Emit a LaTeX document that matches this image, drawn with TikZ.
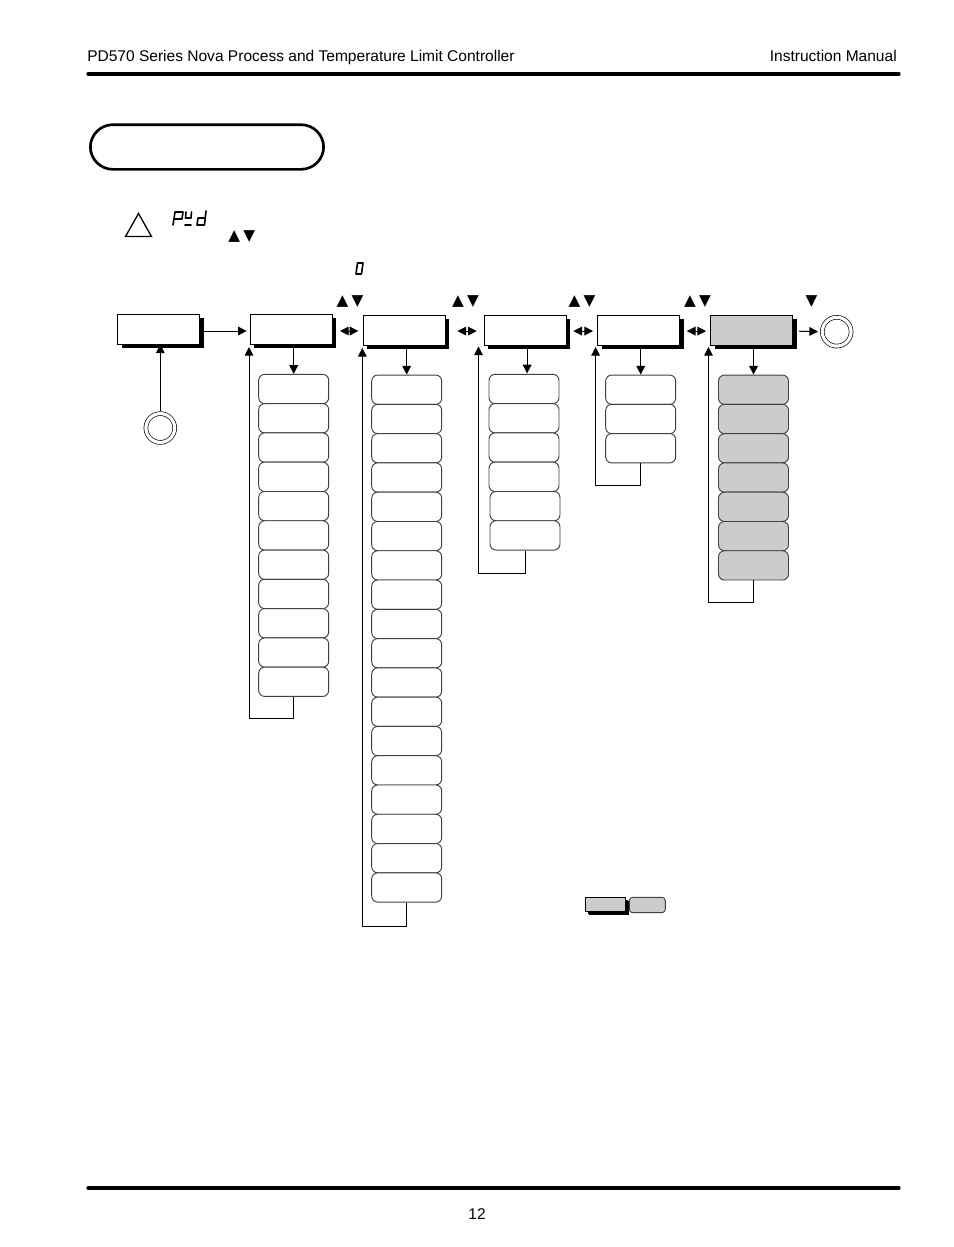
\documentclass[tikz,border=0pt]{standalone}
\usepackage{fontspec}
\setmainfont{Liberation Sans}
\newfontfamily\symfont{DejaVu Sans}
\usetikzlibrary{arrows.meta,shadows}
\definecolor{menugray}{HTML}{CCCCCC}
\newcommand{\updown}{{\symfont\fontsize{11.5}{12}\selectfont ▲\hspace{2.4pt}▼}}
\newcommand{\downonly}{{\symfont\fontsize{11.5}{12}\selectfont ▼}}

\begin{document}
\begin{tikzpicture}[x=0.75pt,y=-0.75pt,>={Triangle[length=6.5pt,width=6.5pt]},
    node distance=21.96pt,
    menu/.style={rectangle,draw,fill=white,line width=0.6pt,minimum width=61.5pt,minimum height=22.5pt,inner sep=0pt,
        drop shadow={shadow xshift=3pt,shadow yshift=-3pt,fill=black,opacity=1}},
    item/.style={rectangle,draw=black!75,fill=white,line width=0.7pt,rounded corners=4.5pt,minimum width=52.5pt,minimum height=21.96pt,inner sep=0pt},
    keys/.style={inner sep=0pt},
    ring/.style={circle,draw,fill=white,line width=0.5pt,minimum size=21.6pt,inner sep=0pt,outer sep=1.7pt,double,double distance=2.4pt},
    rule/.style={line width=2.4pt,line cap=round},
    segment/.style={line width=1.2pt,line cap=round,line join=round},
    pagetext/.style={inner sep=0pt,font=\fontsize{11.65}{13}\selectfont}]
    \useasboundingbox (0,0) rectangle (954,1247);

    % header and footer
    \node[pagetext,anchor=base west] (title) at (87,61) {PD570 Series Nova Process and Temperature Limit Controller};
    \node[pagetext,anchor=base east] (manual) at (897,61) {Instruction Manual};
    \node[pagetext,anchor=base] (page) at (477,1219.5) {12};
    \draw[rule] (88,74) -- (899,74);
    \draw[rule] (88,1188) -- (899,1188);

    % heading
    \node[draw,line width=2pt,rounded corners=17pt,minimum width=175pt,minimum height=33.5pt,inner sep=0pt] (heading) at (207,147) {};

    % note
    \draw[line width=1pt] (125.5,236.5) -- (138.5,213.5) -- (151.5,236.5) -- cycle;
    \draw[segment] (173,225) -- (175,212) -- (183,212) -- (182,219) -- (174,219);
    \draw[segment] (186,212) -- (185.5,218) -- (191,218) -- (191.5,212);
    \draw[segment] (185,225) -- (191,225);
    \draw[segment] (206,211) -- (204.5,225) -- (197,225) -- (198,218) -- (205,218);
    \draw[segment] (357.5,263) -- (363,263) -- (361.5,274) -- (356,274) -- cycle;
    \node[keys] (notekeys) at (241.7,237) {\updown};

    % menus
    \node[menu] (start) at (158.5,329) {};
    \node[menu] (m1) at (291,329) {};
    \node[menu] (m2) at (404,330) {};
    \node[menu] (m3) at (525,330) {};
    \node[menu] (m4) at (638.5,330) {};
    \node[menu,fill=menugray] (m5) at (751.5,330) {};
    \node[ring] (enter) at (160.3,428) {};
    \node[ring] (exit) at (836.7,331.7) {};

    % keys over the menus
    \node[keys] (k1) at (350,302) {\updown};
    \node[keys] (k2) at (465.5,302) {\updown};
    \node[keys] (k3) at (582,302) {\updown};
    \node[keys] (k4) at (697.5,302) {\updown};
    \node[keys] (k5) at (811.5,302) {\downonly};

    % first column
    \node[item] (a1) at (293.7,389) {};
    \foreach \i [remember=\i as \j (initially 1)] in {2,...,11}
        \node[item,below of=a\j] (a\i) {};
    % second column
    \node[item] (b1) at (406.7,389.7) {};
    \foreach \i [remember=\i as \j (initially 1)] in {2,...,18}
        \node[item,below of=b\j] (b\i) {};
    % third column
    \node[item] (c1) at (524,389) {};
    \foreach \i [remember=\i as \j (initially 1)] in {2,...,4}
        \node[item,below of=c\j] (c\i) {};
    \node[item,below of=c4,xshift=0.75pt] (c5) {};
    \node[item,below of=c5] (c6) {};
    % fourth column
    \node[item] (d1) at (640.7,389.7) {};
    \foreach \i [remember=\i as \j (initially 1)] in {2,3}
        \node[item,below of=d\j] (d\i) {};
    % fifth column
    \node[item,fill=menugray] (e1) at (753.5,389.7) {};
    \foreach \i [remember=\i as \j (initially 1)] in {2,...,7}
        \node[item,fill=menugray,below of=e\j] (e\i) {};

    % legend
    \node[menu,fill=menugray,minimum width=30pt,minimum height=10.5pt,drop shadow={shadow xshift=2.2pt,shadow yshift=-2.2pt,fill=black,opacity=1}] (keymenu) at (605,904) {};
    \node[item,fill=menugray,minimum width=27pt,minimum height=11.5pt,rounded corners=2.5pt] (keyitem) at (647.3,905) {};

    % connectors
    \draw[->,line width=0.75pt] ([yshift=-1.5pt]start.east) -- ([yshift=-1.5pt,xshift=-2.2pt]m1.west);
    \draw[->,line width=0.75pt] (enter.north) -- (start.south -| enter.north);
    \path[<->,line width=0.75pt]
        ([yshift=-1.5pt]m1.east) edge [shorten <=5.7pt,shorten >=3.2pt] ([yshift=-0.75pt]m2.west)
        ([yshift=-0.8pt]m2.east) edge [shorten <=9pt,shorten >=5.2pt] ([yshift=-0.8pt]m3.west)
        ([yshift=-0.8pt]m3.east) edge [shorten <=5.2pt,shorten >=3pt] ([yshift=-0.8pt]m4.west)
        ([yshift=-0.8pt]m4.east) edge [shorten <=5.2pt,shorten >=3pt] ([yshift=-0.8pt]m5.west);
    \draw[->,line width=0.75pt,shorten <=4.5pt,shorten >=1.5pt] ([yshift=-0.8pt]m5.east) -- (exit.west);
    \foreach \menubox/\first in {m1/a1,m2/b1,m4/d1,m5/e1}
        \draw[->,line width=0.75pt] (\menubox.south -| \first.north) -- (\first.north);
    \draw[->,line width=0.75pt] ([xshift=1.6pt]m3.south) -- ([xshift=1.6pt,yshift=0.4pt]m3.south |- c1.north);
    % return lines
    \draw[->,line width=0.75pt] (a11.south) |- (249,718) -- (249,347);
    \draw[->,line width=0.75pt] (b18.south) |- (362.3,926) -- (362.3,348);
    \draw[->,line width=0.75pt] (c6.south) |- (478.5,573) -- (478.5,346.5);
    \draw[->,line width=0.75pt] (d3.south) |- (595.6,485) -- (595.6,347);
    \draw[->,line width=0.75pt] (e7.south) |- (708.5,602) -- (708.5,347);
\end{tikzpicture}
\end{document}
